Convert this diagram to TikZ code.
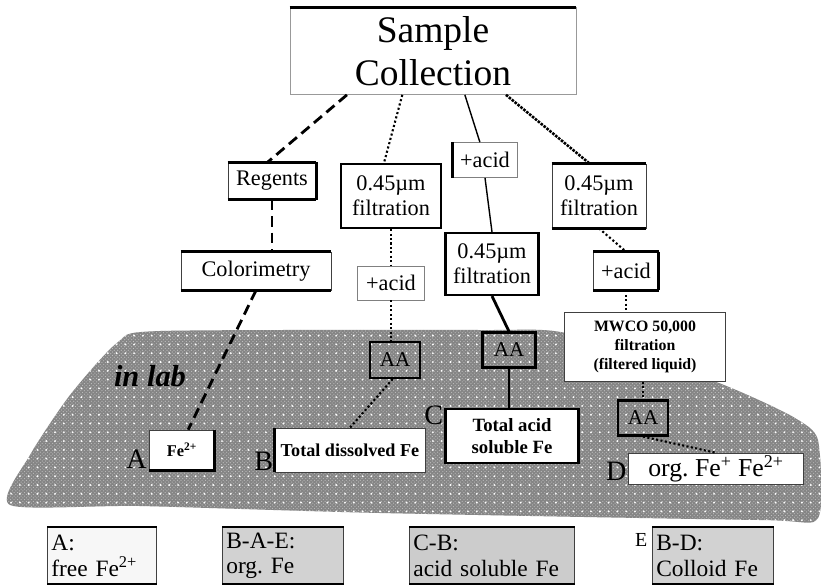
\documentclass[tikz,border=0pt]{standalone}
\usepackage{fontspec}
\setmainfont{Liberation Serif}
\usetikzlibrary{positioning,patterns}
\pgfdeclarepatternformonly{labdots}{\pgfqpoint{-1pt}{-1pt}}{\pgfqpoint{8pt}{8pt}}{\pgfqpoint{7.5pt}{7.5pt}}{%
	\pgfpathcircle{\pgfqpoint{2pt}{2pt}}{0.9pt}\pgfusepath{fill}}

\begin{document}
\frenchspacing
\begin{tikzpicture}[
		x=0.3mm, y=-0.3mm,
		every node/.style={align=center, inner sep=2pt},
		box/.style={draw=black!75, line width=0.6pt, fill=white, font=\fontsize{19}{21}\selectfont},
		boxh/.style={box, draw=black, line width=1.8pt},
		res/.style={box, anchor=north west, minimum height=17.1mm, inner xsep=1.2mm, align=left, font=\fontsize{20}{22}\selectfont},
		lbl/.style={font=\fontsize{24}{24}\selectfont, inner sep=1pt},
		edge/.style={line width=2.4pt},
		regline/.style={line width=2.4pt, dash pattern=on 9pt off 5pt},
		dotline/.style={line width=1.8pt, dotted},
		acidline/.style={line width=1.2pt},
		colline/.style={line width=2.2pt, densely dotted}
	]
	\useasboundingbox (0,0) rectangle (821,584);

	% in-lab area
	\path[fill=black!48, postaction={pattern=crosshatch dots, pattern color=black!25}, postaction={pattern=labdots, pattern color=white}]
		plot[smooth cycle, tension=0.4] coordinates {(10,505) (30,455) (70,395) (118,342) (160,331) (480,330) (566,333) (700,376) (750,396) (795,418) (818,440) (818,518) (760,520) (380,513) (140,506)};
	\node[font=\fontsize{26}{26}\selectfont\itshape\bfseries] (lab) at (150,376) {in lab};

	% nodes
	\node[box, draw=black!40, minimum width=85.8mm, minimum height=26.1mm, font=\fontsize{32}{37}\selectfont] (sample) at (433,51) {Sample\\Collection};

	\node[box, minimum width=26.4mm, minimum height=11.1mm] (regents) at (272,181) {Regents};
	\node[boxh, minimum width=30mm, minimum height=19.2mm] (filtB) at (391,196) {0.45µm\\filtration};
	\node[box, draw=black!50, minimum width=19.5mm, minimum height=10.5mm] (acidC) at (485,160) {+acid};
	\node[box, minimum width=28.2mm, minimum height=19.2mm] (filtD) at (599,196) {0.45µm\\filtration};

	\node[box, minimum width=45mm, minimum height=11.4mm] (color) at (256,271) {Colorimetry};
	\node[box, draw=black!50, minimum width=20.1mm, minimum height=10.2mm] (acidB) at (391,283) {+acid};
	\node[boxh, minimum width=27.9mm, minimum height=18.6mm] (filtC) at (492,264) {0.45µm\\filtration};
	\node[box, minimum width=19.5mm, minimum height=11.4mm] (acidD) at (626,271) {+acid};

	\node[boxh, fill=none, minimum width=15mm, minimum height=10.8mm, font=\fontsize{18}{18}\selectfont] (aaB) at (395,360) {AA};
	\node[boxh, fill=none, minimum width=15.9mm, minimum height=10.5mm, font=\fontsize{18}{18}\selectfont] (aaC) at (509,350) {AA};
	\node[box, minimum width=48.3mm, minimum height=20.7mm, font=\fontsize{13.5}{16.5}\selectfont\bfseries] (mwco) at (645,347) {MWCO 50,000\\filtration\\(filtered liquid)};
	\node[boxh, fill=none, minimum width=15mm, minimum height=10.5mm, font=\fontsize{18}{18}\selectfont] (aaD) at (643,418) {AA};

	\node[box, minimum width=19.5mm, minimum height=12mm, font=\fontsize{14}{14}\selectfont\bfseries] (fe) at (182,450) {Fe\textsuperscript{2+}};
	\node[box, minimum width=45mm, minimum height=13.2mm, font=\fontsize{15.5}{15.5}\selectfont\bfseries] (totdis) at (350,450) {Total dissolved Fe};
	\node[boxh, minimum width=39.9mm, minimum height=16.2mm, font=\fontsize{16}{19}\selectfont\bfseries] (totacid) at (512,436) {Total acid\\soluble Fe};
	\node[box, line width=1.2pt, minimum width=52.5mm, minimum height=9mm, font=\fontsize{22}{22}\selectfont] (orgfe) at (716,469) {org. Fe\textsuperscript{+} Fe\textsuperscript{2+}};

	\node[lbl, above left=0pt and 1pt of fe.south west] (la) {A};
	\node[lbl, above left=0pt and 0pt of totdis.south west] (lb) {B};
	\node[lbl, left=0pt of totacid.north west, yshift=-2.2mm] (lc) {C};
	\node[lbl, left=0pt of orgfe.west, yshift=-0.6mm] (ld) {D};

	% results
	\node[res, text width=30.3mm, fill=gray!6] (resA) at (47,527) {A:\\free Fe\textsuperscript{2+}};
	\node[res, text width=33.9mm, fill=gray!35] (resB) at (222,527) {B-A-E:\\org. Fe};
	\node[res, text width=47.1mm, fill=gray!40] (resC) at (409,527) {C-B:\\acid soluble Fe};
	\node[res, text width=33.9mm, fill=gray!35] (resD) at (652,527) {B-D:\\Colloid Fe};
	\node[lbl, font=\fontsize{17}{17}\selectfont, below left=1.5mm and 1mm of resD.north west] (le) {E};

	% heavy edges
	\foreach \n in {regents,filtD,color,acidD,resA,resB,resC,resD}
		\draw[edge] (\n.north west) -- (\n.north east) (\n.south west) -- (\n.south east);
	\draw[edge] (sample.north west) -- (sample.north east);
	\draw[edge] (regents.north east) -- (regents.south east);
	\draw[edge] (acidD.north east) -- (acidD.south east);
	\draw[edge] (fe.south west) -- (fe.south east) -- (fe.north east);
	\draw[edge] (acidC.north west) -- (acidC.south west);
	\draw[edge] (totdis.north west) -- (totdis.south west);

	% connectors
	\draw[regline] (sample.207) -- (regents.103);
	\draw[regline] (regents.south) -- (regents.south |- color.north);
	\draw[regline] (color.south) -- (fe.73);

	\draw[dotline] (sample.235) -- (filtB.102);
	\draw[dotline] (filtB) -- (acidB);
	\draw[dotline] (acidB.south) -- (acidB.south |- aaB.north);
	\draw[dotline] (aaB.263) -- (totdis.north);

	\draw[acidline] (sample.306) -- (acidC.106);
	\draw[acidline] (acidC.south) -- (filtC.north);
	\draw[edge] (filtC.south) -- (aaC.north);
	\draw[edge] (aaC.south) -- (aaC.south |- totacid.north);

	\draw[colline] (sample.329) -- (filtD.106);
	\draw[dotline] (filtD.south) -- (acidD.north);
	\draw[dotline] (acidD.south) -- (acidD.south |- mwco.north);
	\draw[dotline] (mwco.south -| aaD.north) -- (aaD.north);
	\draw[dotline] (aaD.south) -- (orgfe.north);
\end{tikzpicture}
\end{document}
